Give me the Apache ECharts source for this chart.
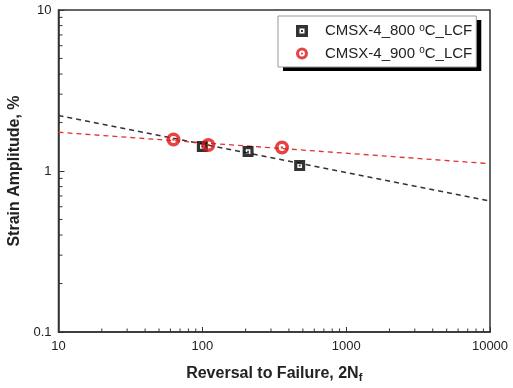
<!DOCTYPE html>
<html><head><meta charset="utf-8">
<script src="https://cdn.jsdelivr.net/npm/echarts@6/dist/echarts.min.js"></script>
<style>html,body{margin:0;padding:0;background:#fff}#c{width:513px;height:388px}</style>
</head><body><div id="c"></div>
<script>
const seriesNames = ['CMSX-4_800 °C_LCF', 'CMSX-4_900 °C_LCF'];
const blackX = [100, 208, 475];
const blackY = [1.42, 1.32, 1.08];
const redX = [63, 110, 358];
const redY = [1.57, 1.45, 1.40];
const fitX = [10, 10000];
const blackFitY = [2.21, 0.651];
const redFitY = [1.74, 1.11];
const xMinorTicks = [20,30,40,50,60,70,80,90,200,300,400,500,600,700,800,900,2000,3000,4000,5000,6000,7000,8000,9000];
const yMinorTicks = [0.2,0.3,0.4,0.5,0.6,0.7,0.8,0.9,2,3,4,5,6,7,8,9];

const zip = (a, b) => a.map((v, i) => [v, b[i]]);
const sqPath = 'path://M0 0H10V10H0Z M2.9 2.9V7.1H7.1V2.9Z M4.2 4.2H5.8V5.8H4.2Z';
const ciPath = 'path://M0 6.5A6.5 6.5 0 1 1 13 6.5A6.5 6.5 0 1 1 0 6.5Z M3.3 6.5A3.2 3.2 0 1 0 9.7 6.5A3.2 3.2 0 1 0 3.3 6.5Z M5.3 6.5A1.2 1.2 0 1 1 7.7 6.5A1.2 1.2 0 1 1 5.3 6.5Z';
const font = 'Liberation Sans, Arial, sans-serif';

const legendBase = {
  orient: 'vertical', data: seriesNames, selectedMode: false,
  padding: [7, 4, 6, 18], itemWidth: 36, itemHeight: 12, itemGap: 7,
  formatter: n => n.replace('°', '{sup|o}'),
  textStyle: { fontFamily: font, fontSize: 15, color: '#222',
    rich: { sup: { fontFamily: font, fontSize: 10, color: '#222', verticalAlign: 'top', padding: [0, 0, 6, 0] } } }
};

const chart = echarts.init(document.getElementById('c'));
chart.setOption({
  animation: false,
  grid: { left: 58.5, right: 23, top: 10, bottom: 56, show: true, borderColor: '#333', borderWidth: 1.5,
    containLabel: false, outerBoundsMode: 'none' },
  xAxis: {
    type: 'log', logBase: 10, min: 10, max: 10000,
    name: 'Reversal to Failure, 2N{sub|f}', nameLocation: 'middle', nameGap: 32,
    nameTextStyle: { fontFamily: font, fontSize: 16, fontWeight: 'bold', color: '#222',
      rich: { sub: { fontFamily: font, fontSize: 11, fontWeight: 'bold', color: '#222', verticalAlign: 'bottom', padding: [8, 0, 0, 0] } } },
    axisLine: { lineStyle: { color: '#333', width: 1.5 } },
    axisTick: { inside: true, length: 5, lineStyle: { color: '#333' } },
    axisLabel: { fontFamily: font, fontSize: 13, color: '#222', margin: 8, formatter: v => String(v) },
    splitLine: { show: false }
  },
  yAxis: {
    type: 'log', logBase: 10, min: 0.1, max: 10,
    name: 'Strain Amplitude, %', nameLocation: 'middle', nameGap: 35,
    nameTextStyle: { fontFamily: font, fontSize: 16, fontWeight: 'bold', color: '#222' },
    axisLine: { lineStyle: { color: '#333', width: 1.5 } },
    axisTick: { inside: true, length: 6, lineStyle: { color: '#333' } },
    axisLabel: { fontFamily: font, fontSize: 13, color: '#222', margin: 7, formatter: v => String(v) },
    splitLine: { show: false }
  },
  legend: [
    Object.assign({}, legendBase, { left: 283, top: 20, z: 3, backgroundColor: '#000', borderWidth: 0 }),
    Object.assign({}, legendBase, { left: 278, top: 16, z: 4, backgroundColor: '#fff', borderColor: '#999', borderWidth: 1 })
  ],
  series: [
    { type: 'line', data: zip(fitX, blackFitY), symbol: 'none', silent: true, z: 2,
      lineStyle: { color: '#333', width: 1.5, type: [5, 4] } },
    { type: 'line', data: zip(fitX, redFitY), symbol: 'none', silent: true, z: 2,
      lineStyle: { color: '#e03333', width: 1.3, type: [5, 4] } },
    { name: seriesNames[0], type: 'scatter', data: zip(blackX, blackY), symbol: sqPath, symbolSize: 11, z: 3,
      itemStyle: { color: '#000' } },
    { name: seriesNames[1], type: 'scatter', data: zip(redX, redY), symbol: ciPath, symbolSize: 14, z: 4,
      itemStyle: { color: '#e01515' } },
    { type: 'custom', silent: true, clip: false, z: 5, data: xMinorTicks.map(v => [v, 0.1]),
      renderItem: (p, api) => { const c = api.coord([api.value(0), api.value(1)]);
        return { type: 'line', shape: { x1: c[0], y1: c[1], x2: c[0], y2: c[1] - 3.5 }, style: { stroke: '#333', lineWidth: 1 } }; } },
    { type: 'custom', silent: true, clip: false, z: 5, data: yMinorTicks.map(v => [10, v]),
      renderItem: (p, api) => { const c = api.coord([api.value(0), api.value(1)]);
        return { type: 'line', shape: { x1: c[0], y1: c[1], x2: c[0] + 4, y2: c[1] }, style: { stroke: '#333', lineWidth: 1 } }; } }
  ]
});
</script></body></html>
